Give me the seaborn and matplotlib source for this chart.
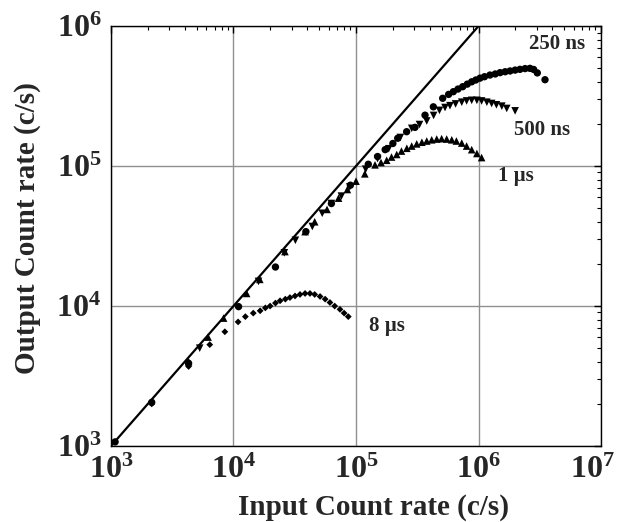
import seaborn as sns
import matplotlib.pyplot as plt
import pandas as pd
from matplotlib.ticker import LogLocator, NullFormatter
from matplotlib.transforms import ScaledTranslation

# Data (input rate, output rate in c/s)
x_250ns = [1.08e3, 2.15e3, 4.3e3, 1.1e4, 2.2e4, 3.9e4, 6.3e4, 9.0e4, 1.26e5,
           1.5e5, 1.73e5, 2.0e5, 2.19e5, 2.59e5, 3.03e5, 3.66e5, 4.28e5, 5.1e5,
           5.7e5, 6.23e5, 6.8e5, 7.43e5, 8.1e5, 8.8e5, 9.5e5, 1.03e6, 1.12e6,
           1.24e6, 1.37e6, 1.5e6, 1.65e6, 1.81e6, 1.99e6, 2.18e6, 2.4e6, 2.63e6,
           2.82e6, 3.02e6, 3.49e6]
y_250ns = [1.07e3, 2.05e3, 3.9e3, 9.9e3, 1.9e4, 3.4e4, 5.4e4, 7.3e4, 1.03e5,
           1.17e5, 1.31e5, 1.45e5, 1.58e5, 1.76e5, 1.89e5, 2.31e5, 2.65e5, 3.05e5,
           3.25e5, 3.4e5, 3.55e5, 3.69e5, 3.85e5, 4.0e5, 4.12e5, 4.25e5, 4.35e5,
           4.47e5, 4.55e5, 4.65e5, 4.72e5, 4.78e5, 4.85e5, 4.91e5, 4.97e5, 4.99e5,
           4.9e5, 4.63e5, 4.14e5]

x_500ns = [5.3e3, 1.6e4, 2.6e4, 3.2e4, 4.4e4, 5.3e4, 6.3e4, 7.6e4, 8.9e4,
           1.2e5, 1.5e5, 1.85e5, 2.3e5, 2.85e5, 3.3e5, 3.78e5, 4.3e5, 4.8e5,
           5.33e5, 5.85e5, 6.5e5, 7.3e5, 8.0e5, 8.8e5, 9.7e5, 1.06e6, 1.17e6,
           1.28e6, 1.4e6, 1.55e6, 1.7e6, 1.99e6]
y_500ns = [5.0e3, 1.5e4, 2.4e4, 2.95e4, 3.7e4, 4.6e4, 5.4e4, 6.1e4, 7.1e4,
           9.5e4, 1.13e5, 1.33e5, 1.6e5, 1.86e5, 1.98e5, 2.1e5, 2.3e5, 2.5e5,
           2.62e5, 2.7e5, 2.78e5, 2.86e5, 2.92e5, 2.95e5, 2.95e5, 2.92e5, 2.86e5,
           2.8e5, 2.74e5, 2.68e5, 2.58e5, 2.48e5]

x_1us = [4.3e3, 6.2e3, 8.3e3, 1.28e4, 1.64e4, 2.63e4, 3.84e4, 4.6e4, 5.8e4,
         7.2e4, 8.5e4, 1.0e5, 1.18e5, 1.43e5, 1.6e5, 1.78e5, 1.95e5, 2.15e5,
         2.35e5, 2.6e5, 2.85e5, 3.13e5, 3.45e5, 3.78e5, 4.15e5, 4.56e5, 5.0e5,
         5.5e5, 6.05e5, 6.6e5, 7.3e5, 8.0e5, 8.8e5, 9.7e5, 1.06e6]
y_1us = [4.0e3, 6.0e3, 8.2e3, 1.23e4, 1.55e4, 2.45e4, 3.4e4, 4.0e4, 4.9e4,
         5.9e4, 6.8e4, 7.8e4, 8.8e4, 1.02e5, 1.06e5, 1.1e5, 1.16e5, 1.21e5,
         1.28e5, 1.34e5, 1.39e5, 1.44e5, 1.48e5, 1.51e5, 1.54e5, 1.56e5, 1.57e5,
         1.56e5, 1.54e5, 1.51e5, 1.46e5, 1.39e5, 1.31e5, 1.23e5, 1.15e5]

x_8us = [2.15e3, 4.3e3, 6.4e3, 8.5e3, 1.09e4, 1.25e4, 1.45e4, 1.65e4, 1.82e4,
         1.99e4, 2.2e4, 2.4e4, 2.65e4, 2.89e4, 3.18e4, 3.49e4, 3.84e4, 4.21e4,
         4.6e4, 5.09e4, 5.6e4, 6.13e4, 6.7e4, 7.4e4, 8.0e4, 8.65e4]
y_8us = [2.0e3, 3.7e3, 5.3e3, 6.55e3, 7.7e3, 8.4e3, 8.9e3, 9.25e3, 9.7e3,
         1.0e4, 1.05e4, 1.09e4, 1.12e4, 1.15e4, 1.18e4, 1.21e4, 1.23e4, 1.23e4,
         1.21e4, 1.17e4, 1.12e4, 1.06e4, 1.0e4, 9.47e3, 8.9e3, 8.4e3]

# ideal (no dead time) line
x_ideal = [1e3, 1e6]
y_ideal = [1e3, 1e6]

labels = ["250 ns", "500 ns", "1 \u00b5s", "8 \u00b5s"]
label_x = [4.4e6, 3.3e6, 2.0e6, 1.8e5]
label_y = [7.5e5, 1.82e5, 8.5e4, 7.2e3]

sns.set_theme(style="white")
plt.rcParams['font.family'] = ['Liberation Serif', 'DejaVu Serif']
plt.rcParams['font.weight'] = 'bold'

fig, ax = plt.subplots(figsize=(6.18, 5.22), dpi=100)
fig.subplots_adjust(left=0.1796, right=0.9725, bottom=0.1456, top=0.950)

sns.lineplot(x=x_ideal, y=y_ideal, ax=ax, color="black", lw=1.6)
sns.scatterplot(x=x_250ns, y=y_250ns, ax=ax, marker="o", s=28, color="black", edgecolor="none")
sns.scatterplot(x=x_500ns, y=y_500ns, ax=ax, marker="v", s=30, color="black", edgecolor="none")
sns.scatterplot(x=x_1us, y=y_1us, ax=ax, marker="^", s=30, color="black", edgecolor="none")
sns.scatterplot(x=x_8us, y=y_8us, ax=ax, marker="D", s=12, color="black", edgecolor="none")

ax.set_xscale("log")
ax.set_yscale("log")
ax.set_xlim(1e3, 1e7)
ax.set_ylim(1e3, 1e6)
ax.xaxis.set_major_locator(LogLocator(base=10, numticks=10))
ax.yaxis.set_major_locator(LogLocator(base=10, numticks=10))
ax.xaxis.set_minor_locator(LogLocator(base=10, subs=range(2, 10), numticks=10))
ax.yaxis.set_minor_locator(LogLocator(base=10, subs=range(2, 10), numticks=10))
ax.xaxis.set_minor_formatter(NullFormatter())
ax.yaxis.set_minor_formatter(NullFormatter())

ax.grid(True, which="major", color="#909090", lw=1.0)
for s in ax.spines.values():
    s.set_color("black")
    s.set_linewidth(1.0)
ax.tick_params(which="both", direction="in", top=True, right=True, color="black")
ax.tick_params(which="major", length=5, width=1, labelsize=23, pad=7)
ax.tick_params(which="minor", length=3, width=0.8)

for txt, tx, ty in zip(labels, label_x, label_y):
    ax.text(tx, ty, txt, ha="center", va="center", fontsize=15, fontweight="bold")

ax.set_xlabel("Input Count rate (c/s)", fontsize=21, fontweight="bold", labelpad=5)
ax.set_ylabel("Output Count rate (c/s)", fontsize=21, fontweight="bold", labelpad=11)
ax.xaxis.set_label_coords(0.535, -0.115)
ax.yaxis.label.set_y(0.519)

# the last x tick label sits a little left of its tick so it stays inside the figure
fig.canvas.draw()
for tick in ax.xaxis.get_major_ticks():
    tick.label1.set_fontweight("bold")
    if abs(tick.get_loc() - 1e7) < 1:
        tick.label1.set_horizontalalignment("right")
        tick.label1.set_transform(tick.label1.get_transform()
                                  + ScaledTranslation(0.14, 0, fig.dpi_scale_trans))
for tick in ax.yaxis.get_major_ticks():
    tick.label1.set_fontweight("bold")

plt.savefig("out.png", dpi=100)
